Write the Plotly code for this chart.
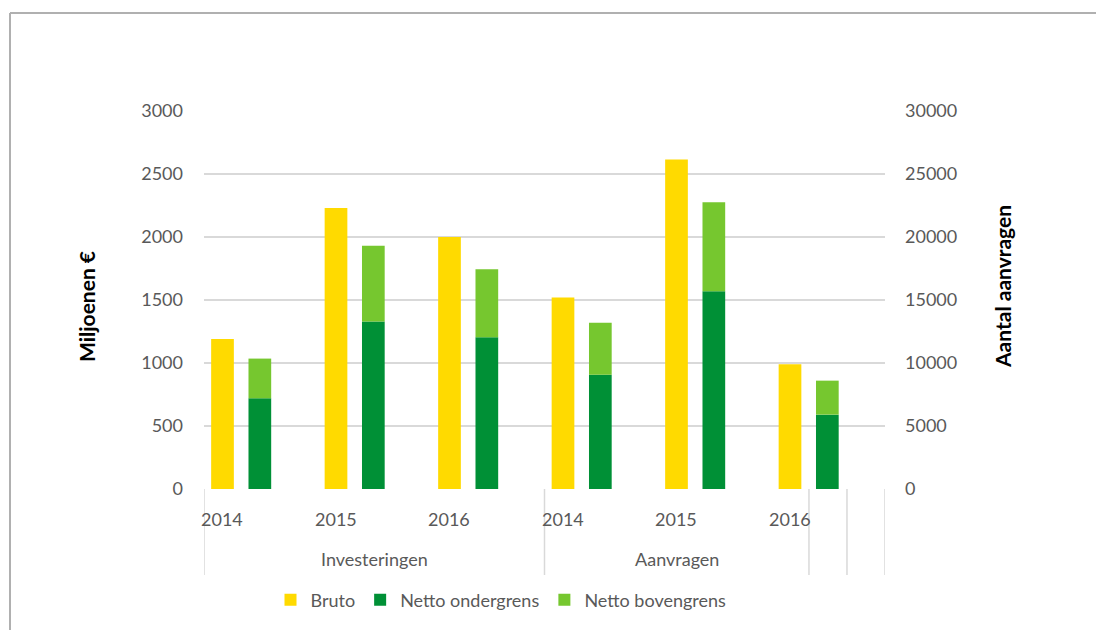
import plotly.graph_objects as go

groups = ["Investeringen", "Aanvragen"]
years = ["2014", "2015", "2016"]

# Investeringen (miljoenen €) - left axis
inv_bruto = [1190, 2230, 2000]
inv_onder = [720, 1330, 1205]
inv_boven = [315, 600, 540]

# Aanvragen (aantal) - right axis
aan_bruto = [15200, 26150, 9900]
aan_onder = [9070, 15700, 5900]
aan_boven = [4130, 7050, 2700]

series_names = ["Bruto", "Netto ondergrens", "Netto bovengrens"]
colors = ["#FFDA00", "#009036", "#76C72F"]

FONT = "Lato"
TXT = "#595959"
GRID = "#d9d9d9"

n = len(years)
x_inv = list(range(n))
x_aan = list(range(n, 2 * n))

BRUTO_OFF, NETTO_OFF, W = -0.437, -0.108, 0.2

fig = go.Figure()

def add_set(xs, bruto, onder, boven, yaxis, show):
    fig.add_trace(go.Bar(x=xs, y=bruto, name=series_names[0], marker_color=colors[0],
                         offset=BRUTO_OFF, width=W, yaxis=yaxis, legendgroup="b",
                         showlegend=show, marker_line_width=0))
    fig.add_trace(go.Bar(x=xs, y=onder, name=series_names[1], marker_color=colors[1],
                         offset=NETTO_OFF, width=W, yaxis=yaxis, legendgroup="o",
                         showlegend=show, marker_line_width=0))
    fig.add_trace(go.Bar(x=xs, y=boven, base=onder, name=series_names[2], marker_color=colors[2],
                         offset=NETTO_OFF, width=W, yaxis=yaxis, legendgroup="v",
                         showlegend=show, marker_line_width=0))

add_set(x_inv, inv_bruto, inv_onder, inv_boven, "y", True)
add_set(x_aan, aan_bruto, aan_onder, aan_boven, "y2", False)

# layout geometry (page pixels); page body has an 8px margin
OFF = 8
FIG_W, FIG_H = 1104 - OFF, 630 - OFF
L, R, T, B = 204, 885, 111, 489
W_PX, H_PX = R - L, B - T

def px(xp):
    return (xp - L) / W_PX

def py(yp):
    return (B - yp) / H_PX

annotations = []
for i, yr in enumerate(years + years):
    annotations.append(dict(x=i - 0.34, y=py(519), xref="x", yref="paper", text=yr,
                            showarrow=False, font=dict(family=FONT, size=18, color=TXT),
                            xanchor="center", yanchor="middle"))
annotations.append(dict(x=(n - 1) / 2, y=py(559), xref="x", yref="paper", text=groups[0],
                        showarrow=False, font=dict(family=FONT, size=18, color=TXT),
                        xanchor="center", yanchor="middle"))
annotations.append(dict(x=(n - 0.5 + 2 * n - 1.17) / 2, y=py(559), xref="x", yref="paper",
                        text=groups[1], showarrow=False,
                        font=dict(family=FONT, size=18, color=TXT),
                        xanchor="center", yanchor="middle"))
annotations.append(dict(x=px(86), y=py(307), xref="paper", yref="paper", text="<b>Miljoenen €</b>",
                        textangle=-90, showarrow=False,
                        font=dict(family=FONT, size=21, color="#000000"),
                        xanchor="center", yanchor="middle"))
annotations.append(dict(x=px(1002), y=py(287), xref="paper", yref="paper",
                        text="<b>Aantal aanvragen</b>", textangle=-90, showarrow=False,
                        font=dict(family=FONT, size=21, color="#000000"),
                        xanchor="center", yanchor="middle"))

shapes = []
for xv in [-0.5, n - 0.5, 2 * n - 1.17, 2 * n - 0.835, 2 * n - 0.5]:
    shapes.append(dict(type="line", xref="x", yref="paper", x0=xv, x1=xv, y0=0, y1=py(575),
                       line=dict(color=GRID, width=1.5)))
shapes.append(dict(type="line", xref="paper", yref="paper", x0=px(10), x1=px(10),
                   y0=py(640), y1=py(13), line=dict(color="#b0b0b0", width=2)))
shapes.append(dict(type="line", xref="paper", yref="paper", x0=px(10), x1=px(1110),
                   y0=py(13), y1=py(13), line=dict(color="#b0b0b0", width=2)))

fig.update_layout(
    width=FIG_W, height=FIG_H,
    margin=dict(l=L - OFF, r=FIG_W - (R - OFF), t=T - OFF, b=FIG_H - (B - OFF)),
    paper_bgcolor="white", plot_bgcolor="white",
    barmode="overlay",
    font=dict(family=FONT, size=18, color=TXT),
    xaxis=dict(range=[-0.5, 2 * n - 0.5], showticklabels=False, showgrid=False,
               zeroline=False, showline=False, ticks=""),
    yaxis=dict(range=[0, 3000], dtick=500, showgrid=True, gridcolor=GRID, gridwidth=2,
               zeroline=False, showline=False, ticks="", ticklabelstandoff=20,
               tickformat="d", tickfont=dict(family=FONT, size=18, color=TXT)),
    yaxis2=dict(range=[0, 30000], dtick=5000, overlaying="y", side="right", showgrid=False,
                zeroline=False, showline=False, ticks="", ticklabelstandoff=19,
                tickformat="d", tickfont=dict(family=FONT, size=18, color=TXT)),
    legend=dict(orientation="h", x=px(501), xanchor="center", y=py(600), yanchor="middle",
                font=dict(family=FONT, size=18, color=TXT), itemwidth=30,
                bgcolor="rgba(0,0,0,0)"),
    annotations=annotations,
    shapes=shapes,
    showlegend=True,
)

fig.write_html("out.html")
